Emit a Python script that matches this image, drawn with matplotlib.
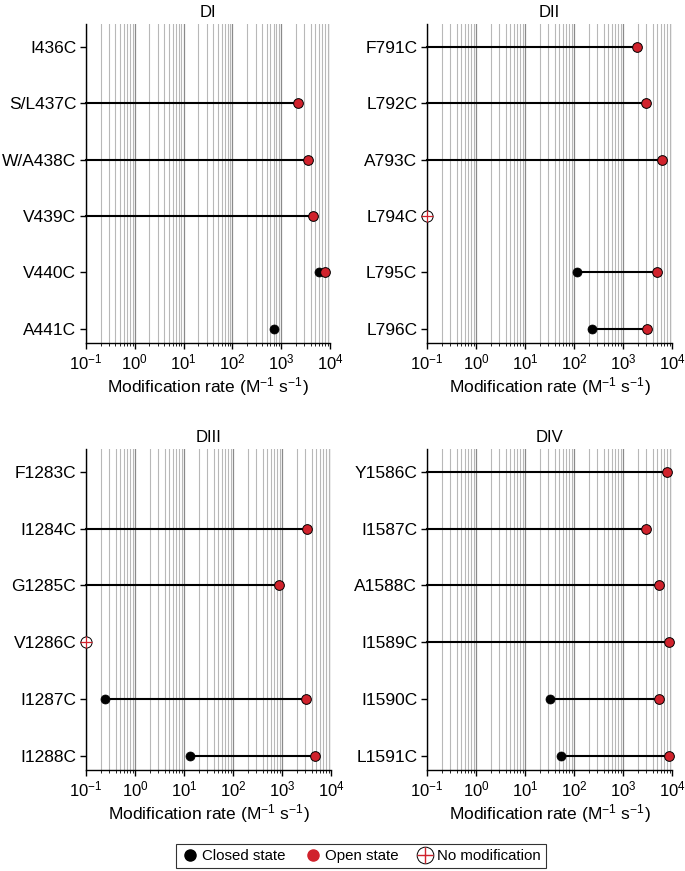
import numpy as np
import matplotlib
matplotlib.use("Agg")
import matplotlib.pyplot as plt
from matplotlib.lines import Line2D
from matplotlib.ticker import LogLocator, NullFormatter

plt.rcParams['font.family'] = ['Liberation Sans', 'DejaVu Sans']
plt.rcParams['mathtext.fontset'] = 'custom'
plt.rcParams['mathtext.rm'] = 'Liberation Sans'
plt.rcParams['mathtext.default'] = 'regular'

nan = np.nan

titles = ["DI", "DII", "DIII", "DIV"]

labels_DI = ["I436C", "S/L437C", "W/A438C", "V439C", "V440C", "A441C"]
closed_DI = [nan, nan, nan, nan, 6000, 720]
open_DI = [nan, 2200, 3600, 4500, 7800, nan]
nomod_DI = [False, False, False, False, False, False]

labels_DII = ["F791C", "L792C", "A793C", "L794C", "L795C", "L796C"]
closed_DII = [nan, nan, nan, nan, 117, 228]
open_DII = [1900, 3000, 6200, nan, 5000, 3150]
nomod_DII = [False, False, False, True, False, False]

labels_DIII = ["F1283C", "I1284C", "G1285C", "V1286C", "I1287C", "I1288C"]
closed_DIII = [nan, nan, nan, nan, 0.25, 13.5]
open_DIII = [nan, 3200, 870, nan, 3150, 4800]
nomod_DIII = [False, False, False, True, False, False]

labels_DIV = ["Y1586C", "I1587C", "A1588C", "I1589C", "I1590C", "L1591C"]
closed_DIV = [nan, nan, nan, nan, 33, 54]
open_DIV = [7800, 2900, 5500, 8800, 5500, 8500]
nomod_DIV = [False, False, False, False, False, False]

panels = [
    (labels_DI, closed_DI, open_DI, nomod_DI),
    (labels_DII, closed_DII, open_DII, nomod_DII),
    (labels_DIII, closed_DIII, open_DIII, nomod_DIII),
    (labels_DIV, closed_DIV, open_DIV, nomod_DIV),
]

XMIN, XMAX = 0.1, 1e4
RED = '#d0222c'

W, H = 685, 871
fig = plt.figure(figsize=(W / 100, H / 100), dpi=100)

# axes rectangles in pixels: left, top, right, bottom
rects = [
    (86, 24, 330, 343),
    (427, 24, 672, 343),
    (86, 449, 331, 770),
    (427, 449, 672, 770),
]

for (l, t, r, b), title, (labels, closed, opn, nomod) in zip(rects, titles, panels):
    ax = fig.add_axes([l / W, 1 - b / H, (r - l) / W, (b - t) / H])
    ax.set_xscale('log')
    ax.set_xlim(XMIN, XMAX)
    n = len(labels)
    ys = np.arange(n)
    ax.set_ylim(n - 1 + 0.25, -0.4)
    ax.xaxis.set_major_locator(LogLocator(base=10, numticks=10))
    ax.xaxis.set_minor_locator(LogLocator(base=10, subs=np.arange(2, 10), numticks=20))
    ax.xaxis.set_minor_formatter(NullFormatter())
    ax.grid(True, which='major', axis='x', color='#8a8a8a', lw=0.9, zorder=0)
    ax.grid(True, which='minor', axis='x', color='#b8b8b8', lw=0.8, zorder=0)
    ax.set_axisbelow(True)
    for s in ['top', 'right']:
        ax.spines[s].set_visible(False)
    for s in ['left', 'bottom']:
        ax.spines[s].set_linewidth(1.0)
    ax.set_yticks(ys)
    ax.set_yticklabels(labels, fontsize=12.5)
    ax.tick_params(axis='y', length=4, width=1, pad=3)
    ax.tick_params(axis='x', which='major', length=4, width=1, labelsize=12, pad=3)
    ax.tick_params(axis='x', which='minor', length=2, width=0.6)
    ax.set_xlabel("Modification rate (M$^{-1}$ s$^{-1}$)", fontsize=12.5, labelpad=2)
    ax.set_title(title, fontsize=12, pad=5)

    for y, c, o, nm in zip(ys, closed, opn, nomod):
        if not np.isnan(o):
            x0 = c if not np.isnan(c) else XMIN
            ax.plot([x0, o], [y, y], color='black', lw=1.5, zorder=3, clip_on=False)
            ax.plot([o], [y], 'o', ms=7, mfc=RED, mec='black', mew=0.7, zorder=5, clip_on=False)
        if not np.isnan(c):
            ax.plot([c], [y], 'o', ms=6.5, mfc='black', mec='black', mew=0.5, zorder=4, clip_on=False)
        if nm:
            ax.plot([XMIN], [y], 'o', ms=8, mfc='white', mec='black', mew=0.7, zorder=5, clip_on=False)
            ax.plot([XMIN], [y], '+', ms=8, mec=RED, mew=0.9, zorder=6, clip_on=False)

handles = [
    Line2D([], [], ls='none', marker='o', ms=8, mfc='black', mec='black'),
    Line2D([], [], ls='none', marker='o', ms=8, mfc=RED, mec=RED),
    (Line2D([], [], ls='none', marker='o', ms=12, mfc='white', mec='black', mew=0.7),
     Line2D([], [], ls='none', marker='+', ms=12, mec=RED, mew=1.0)),
]
leg = fig.legend(handles, ["Closed state", "Open state", "No modification"],
                 loc='center', bbox_to_anchor=(361 / W, 1 - 856 / H), ncol=3,
                 fontsize=10.8, frameon=True, fancybox=False, edgecolor='black',
                 handletextpad=0.2, columnspacing=1.2, handlelength=1.2,
                 borderpad=0.35)
leg.get_frame().set_linewidth(0.8)

fig.savefig("out.png", dpi=100)
